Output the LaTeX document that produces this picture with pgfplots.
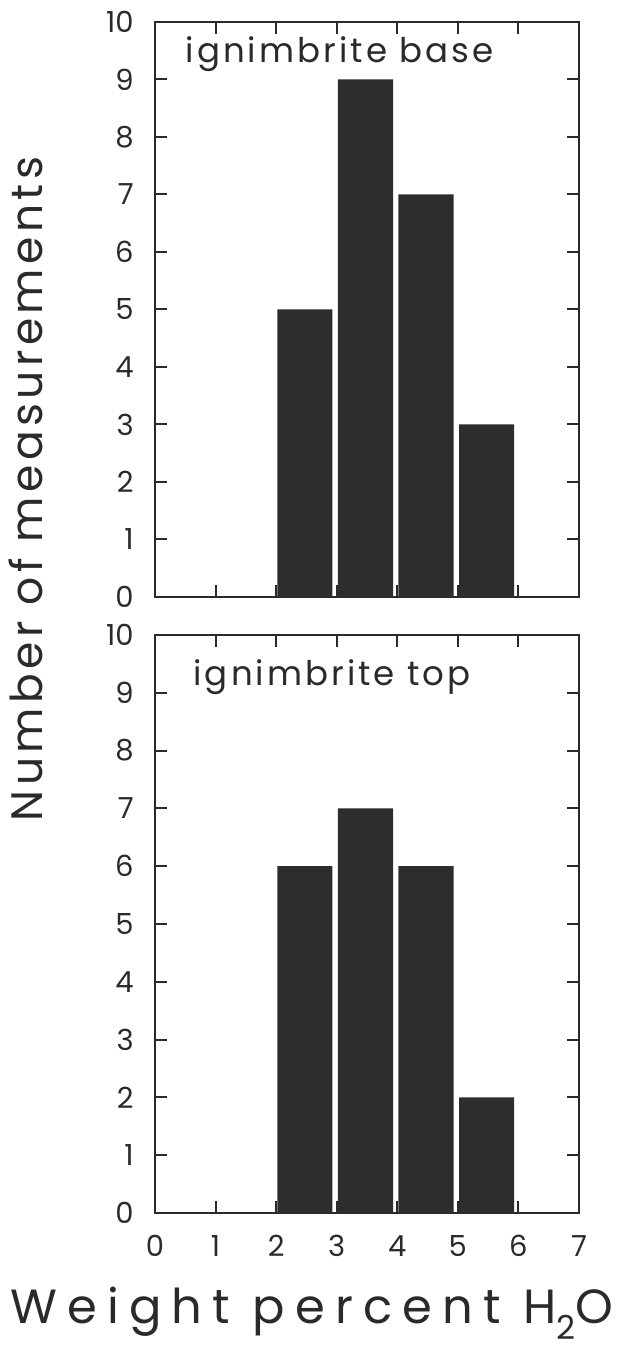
\documentclass[border=0pt]{standalone}
\usepackage{fontspec}
\setmainfont{Poppins}
\usepackage{pgfplots}
\pgfplotsset{compat=1.18}
\definecolor{barc}{HTML}{2D2D2D}
\definecolor{txt}{HTML}{2A2A2A}
\pgfplotsset{
  hist/.style={
    scale only axis,
    width=212pt,
    xmin=0, xmax=7, ymin=0, ymax=10,
    xtick={0,...,7}, ytick={0,...,10},
    tick align=inside,
    major tick length=6pt,
    axis line style={line width=1.3pt, txt},
    tick style={line width=1pt, txt},
    /pgf/number format/assume math mode=true,
    every tick label/.append style={inner sep=0pt, text=txt, font=\fontsize{14.5}{17}\selectfont},
    yticklabel style={xshift=-10.5pt},
    xticklabel style={yshift=-11pt},
    clip=false,
  },
  bars/.style={ybar, bar width=0.91, bar shift=0, fill=barc, draw=none},
}
\begin{document}
\begin{tikzpicture}
\useasboundingbox (-77.5pt,-66.5pt) rectangle (233.5pt,606.5pt);
% top panel
\begin{axis}[hist, at={(0pt,308pt)}, height=287.5pt, xticklabels=\empty]
\addplot[bars] coordinates {(2.475,5) (3.475,9) (4.475,7) (5.475,3)};
\node[anchor=base west, inner sep=0pt, text=txt, font=\fontsize{17}{20}\selectfont\addfontfeature{LetterSpace=9}] at (axis cs:0.5,9.29) {ignimbrite base};
\end{axis}
% bottom panel
\begin{axis}[hist, at={(0pt,0pt)}, height=289pt]
\addplot[bars] coordinates {(2.475,6) (3.475,7) (4.475,6) (5.475,2)};
\node[anchor=base west, inner sep=0pt, text=txt, font=\fontsize{17}{20}\selectfont\addfontfeature{LetterSpace=9}] at (axis cs:0.63,9.13) {ignimbrite top};
\end{axis}
\node[anchor=base, inner sep=0pt, text=txt, font=\fontsize{24}{28}\selectfont\addfontfeature{LetterSpace=21}] at (78.5pt,-55.5pt) {Weight percent H\raisebox{-8pt}{\fontsize{16.5}{18}\selectfont 2}O};
\node[anchor=base, rotate=90, inner sep=0pt, text=txt, font=\fontsize{22}{26}\selectfont\addfontfeature{LetterSpace=10}] at (-56pt,362pt) {Number of measurements};
\end{tikzpicture}
\end{document}
